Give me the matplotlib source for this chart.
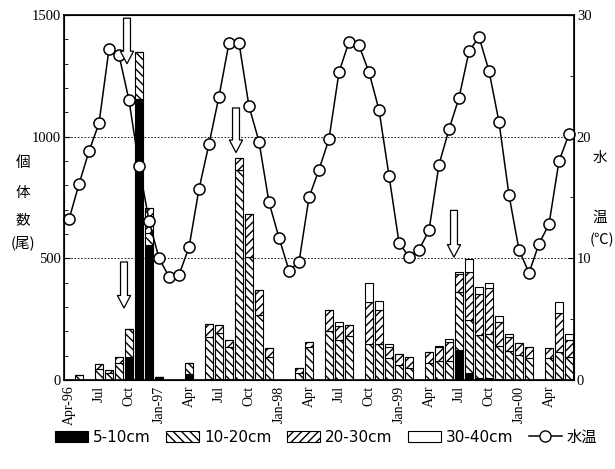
import numpy as np
import matplotlib
matplotlib.use("Agg")
import matplotlib.pyplot as plt
from matplotlib.patches import Patch
from matplotlib.lines import Line2D

plt.rcParams['font.family'] = ['Liberation Serif', 'Noto Sans CJK JP']
plt.rcParams['hatch.linewidth'] = 1.0

# monthly samples, Apr-96 .. Jun-00 (51 months)
n = 51
tick_pos = list(range(0, 51, 3))
tick_labels = ['Apr-96', 'Jul', 'Oct', 'Jan-97', 'Apr', 'Jul', 'Oct', 'Jan-98', 'Apr',
               'Jul', 'Oct', 'Jan-99', 'Apr', 'Jul', 'Oct', 'Jan-00', 'Apr']

# number of fish per size class
s5_10 = [0, 0, 0, 0, 0, 0, 95, 1155, 555, 12, 0, 0, 25, 0, 5, 4, 3, 0, 0, 0,
         0, 0, 0, 0, 0, 0, 0, 0, 0, 0, 0, 0, 0, 0, 0, 0, 0, 0, 0, 123,
         27, 10, 10, 5, 0, 0, 0, 0, 0, 5, 0]
s10_20 = [0, 20, 0, 45, 30, 70, 116, 194, 50, 0, 0, 0, 43, 0, 173, 188, 134, 863, 507, 267,
          96, 0, 0, 30, 137, 0, 200, 165, 180, 0, 150, 150, 90, 60, 50, 0, 70, 80, 80, 240,
          220, 175, 177, 135, 118, 101, 92, 0, 90, 112, 94]
s20_30 = [0, 0, 0, 21, 11, 26, 0, 0, 100, 0, 0, 0, 0, 0, 52, 34, 27, 48, 174, 103,
          37, 0, 0, 21, 20, 0, 87, 58, 44, 0, 172, 138, 47, 47, 46, 0, 46, 55, 77, 72,
          198, 168, 190, 100, 60, 50, 45, 0, 40, 160, 70]
s30_40 = [0, 0, 0, 0, 0, 0, 0, 0, 0, 0, 0, 0, 0, 0, 0, 0, 0, 0, 0, 0,
          0, 0, 0, 0, 0, 0, 0, 15, 0, 0, 75, 37, 11, 0, 0, 0, 0, 5, 10, 10,
          52, 31, 20, 23, 10, 0, 0, 0, 0, 45, 24]

# water temperature (deg C)
temp = [13.2, 16.1, 18.8, 21.1, 27.2, 26.7, 23.0, 17.6, 13.1, 10.0, 8.5, 8.65, 10.9,
        15.7, 19.4, 23.3, 27.7, 27.7, 22.5, 19.6, 14.6, 11.7, 9.0, 9.7, 15.0, 17.3,
        19.8, 25.3, 27.8, 27.5, 25.3, 22.2, 16.8, 11.3, 10.1, 10.7, 12.3, 17.7, 20.6,
        23.2, 27.0, 28.2, 25.4, 21.2, 15.2, 10.7, 8.8, 11.2, 12.8, 18.0, 20.2]

# arrows: (month index, top, tip) in fish counts
arrows = [(5.8, 1487, 1300), (5.5, 485, 296), (16.7, 1118, 935), (38.5, 697, 505)]

x = np.arange(n)
a = np.array(s5_10)
b = np.array(s10_20)
c = np.array(s20_30)
d = np.array(s30_40)

fig = plt.figure(figsize=(6.15, 4.69), dpi=100)
ax = fig.add_axes([64/615, 1-380/469, 510/615, 365/469])
w = 0.78
ax.bar(x, a, w, color='black', edgecolor='black', lw=0.8)
ax.bar(x, b, w, bottom=a, color='white', edgecolor='black', hatch='\\\\\\\\', lw=0.8)
ax.bar(x, c, w, bottom=a+b, color='white', edgecolor='black', hatch='////', lw=0.8)
ax.bar(x, d, w, bottom=a+b+c, color='white', edgecolor='black', lw=0.8)

ax.set_xlim(-0.5, n-0.5)
ax.set_ylim(0, 1500)
ax.set_yticks([0, 500, 1000, 1500])
ax.set_yticks(np.arange(0, 1501, 100), minor=True)
ax.tick_params(axis='y', which='minor', direction='in', length=3)
ax.tick_params(axis='y', which='major', direction='in', length=4, labelsize=10.5, pad=2)
ax.set_xticks(tick_pos)
ax.set_xticklabels(tick_labels, rotation=90, fontsize=10)
ax.tick_params(axis='x', length=0, pad=4)
for yy in [500, 1000]:
    ax.axhline(yy, color='black', ls=(0, (2, 2)), lw=0.6, zorder=0)
for s in ax.spines.values():
    s.set_linewidth(1.2)

ax2 = ax.twinx()
ax2.plot(x, temp, color='black', lw=1.1, marker='o', ms=8,
         mfc='white', mec='black', mew=1.1, clip_on=False)
ax2.set_ylim(0, 30)
ax2.set_yticks([0, 10, 20, 30])
ax2.set_yticks([5, 15, 25], minor=True)
ax2.tick_params(axis='y', which='minor', direction='in', length=3)
ax2.tick_params(axis='y', which='major', direction='in', length=4, labelsize=10.5, pad=2)

for xi, top, tip in arrows:
    ax2.annotate('', xy=(xi, tip), xytext=(xi, top), xycoords=ax.transData,
                 textcoords=ax.transData,
                 arrowprops=dict(arrowstyle='simple,head_length=0.9,head_width=0.95,tail_width=0.5',
                                 fc='white', ec='black', lw=0.9, shrinkA=0, shrinkB=0))

# axis titles written vertically
for ch, yy in [('個', 163), ('体', 193), ('数', 220), ('(尾)', 243)]:
    fig.text(23/615, 1-yy/469, ch, ha='center', va='center', fontsize=10.5,
             family=['Noto Sans CJK JP', 'DejaVu Sans'])
for ch, yy, xx in [('水', 158, 600), ('温', 218, 600), ('(℃)', 240, 602)]:
    fig.text(xx/615, 1-yy/469, ch, ha='center', va='center', fontsize=10.5,
             family=['Noto Sans CJK JP', 'DejaVu Sans'])

handles = [Patch(fc='black', ec='black', lw=0.8),
           Patch(fc='white', ec='black', hatch='\\\\\\\\', lw=0.8),
           Patch(fc='white', ec='black', hatch='////', lw=0.8),
           Patch(fc='white', ec='black', lw=0.8),
           Line2D([], [], color='black', lw=1.1, marker='o', ms=8, mfc='white', mec='black')]
labels = ['5-10cm', '10-20cm', '20-30cm', '30-40cm', '水温']
fig.legend(handles, labels, loc='center', bbox_to_anchor=(0.53, 1-437/469), ncol=5,
           frameon=False, handlelength=2.2, handletextpad=0.3, columnspacing=1.0,
           prop={'family': ['DejaVu Sans', 'Noto Sans CJK JP'], 'size': 11})

fig.savefig('out.png', dpi=100)
